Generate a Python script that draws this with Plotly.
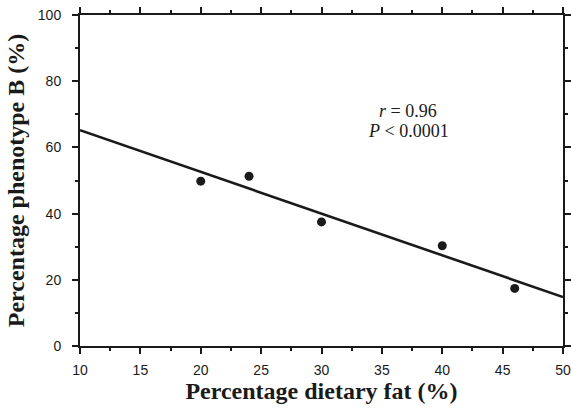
import plotly.graph_objects as go

dietary_fat = [20, 24, 30, 40, 46]
phenotype_b = [49.8, 51.3, 37.5, 30.3, 17.4]
fit_x = [10, 50]
fit_y = [65.2, 14.8]
x_ticks = [10, 15, 20, 25, 30, 35, 40, 45, 50]
y_ticks = [0, 20, 40, 60, 80, 100]
stat_lines = ["<i>r</i> = 0.96", "<i>P</i> < 0.0001"]

INK = "#1a1a1a"

fig = go.Figure()
fig.add_trace(go.Scatter(x=fit_x, y=fit_y, mode="lines",
                         line=dict(color=INK, width=2.6), showlegend=False))
fig.add_trace(go.Scatter(x=dietary_fat, y=phenotype_b, mode="markers",
                         marker=dict(color=INK, size=9), showlegend=False))
# invisible trace to activate mirrored top/right axes
fig.add_trace(go.Scatter(x=fit_x, y=fit_y, xaxis="x2", yaxis="y2", mode="lines",
                         line=dict(width=0), opacity=0, hoverinfo="skip",
                         showlegend=False))

for txt, yy in zip(stat_lines, [71.0, 65.0]):
    fig.add_annotation(x=37.2, y=yy, xref="x", yref="y", showarrow=False,
                       text=txt, align="center", borderpad=0,
                       font=dict(family="Liberation Serif", size=18, color=INK))

tickfont = dict(family="Liberation Sans", size=14, color=INK)
base = dict(showline=True, linecolor=INK, linewidth=2, ticks="outside",
            tickcolor=INK, tickwidth=1.5, showgrid=False, zeroline=False,
            automargin=False, tickfont=tickfont)

fig.update_layout(
    width=571, height=409, margin=dict(l=80, r=8, t=15, b=63),
    plot_bgcolor="white", paper_bgcolor="white",
    xaxis=dict(range=[10, 50], tickvals=x_ticks, ticklen=6, ticklabelstandoff=4,
               minor=dict(dtick=2.5, tick0=10, ticklen=3, ticks="outside",
                          tickcolor=INK, tickwidth=1.5, showgrid=False),
               title=dict(text="<b>Percentage dietary fat (%)</b>",
                          font=dict(family="Liberation Serif", size=24, color=INK),
                          standoff=4),
               **base),
    yaxis=dict(range=[0, 100], tickvals=y_ticks, ticklen=6, ticklabelstandoff=8,
               minor=dict(dtick=10, tick0=0, ticklen=3, ticks="outside",
                          tickcolor=INK, tickwidth=1.5, showgrid=False),
               title=dict(text="<b>Percentage phenotype B (%)</b>",
                          font=dict(family="Liberation Serif", size=24, color=INK),
                          standoff=6),
               **base),
    xaxis2=dict(range=[10, 50], overlaying="x", side="top", anchor="y",
                tickvals=x_ticks, ticklen=6, showticklabels=False,
                minor=dict(dtick=2.5, tick0=10, ticklen=3, ticks="outside",
                           tickcolor=INK, tickwidth=1.5, showgrid=False),
                **base),
    yaxis2=dict(range=[0, 100], overlaying="y", side="right", anchor="x",
                tickvals=y_ticks, ticklen=6, showticklabels=False,
                minor=dict(dtick=10, tick0=0, ticklen=3, ticks="outside",
                           tickcolor=INK, tickwidth=1.5, showgrid=False),
                **base),
)
fig.write_html("out.html", config={"displayModeBar": False},
               post_script="document.body.style.margin='0';")
